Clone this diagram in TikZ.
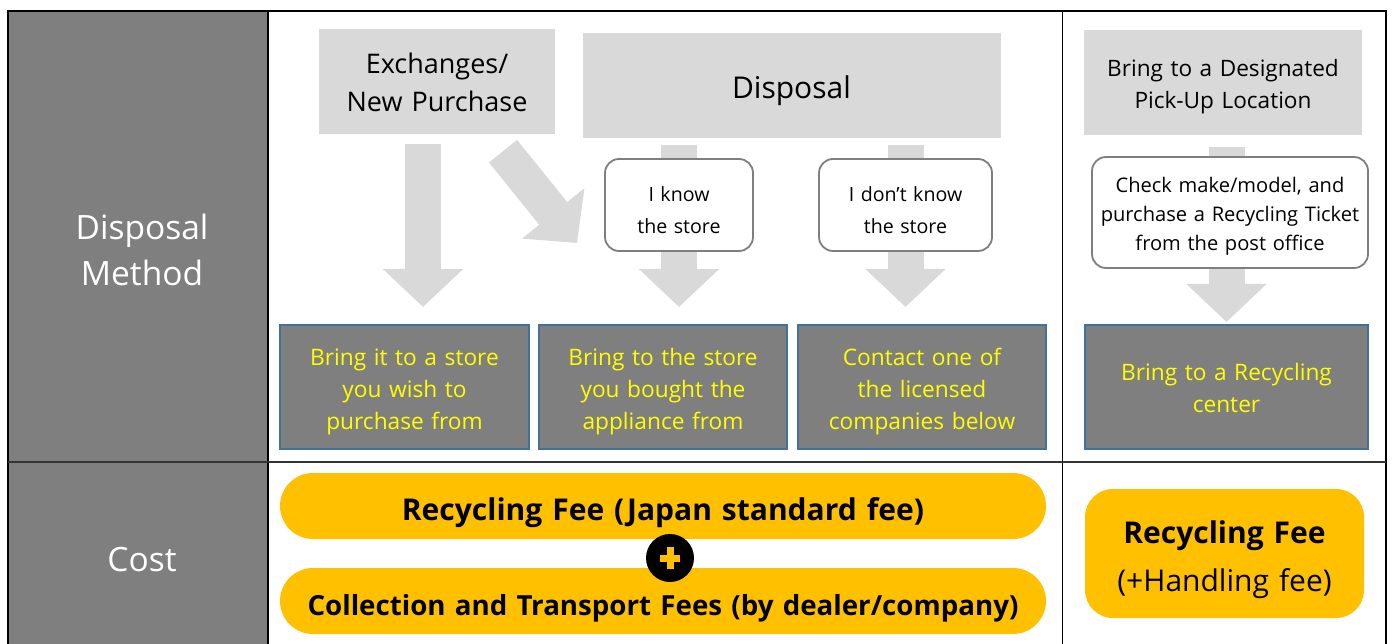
\documentclass[tikz,border=0pt]{standalone}
\usepackage{fontspec}
\setmainfont{Open Sans}
\usetikzlibrary{arrows.meta}
\usetikzlibrary{calc}
\usetikzlibrary{backgrounds}

\definecolor{sidegray}{HTML}{7F7F7F}
\definecolor{headgray}{HTML}{D9D9D9}
\definecolor{askgray}{HTML}{7F7F7F}
\definecolor{storeblue}{HTML}{41719C}
\definecolor{storetext}{HTML}{FFFF00}
\definecolor{feeyellow}{HTML}{FFC000}

\begin{document}
\begin{tikzpicture}[x=1pt,y=-1pt,inner sep=0pt,
  textdrop/.style={execute at begin node={\vskip#1}},
  headbox/.style={fill=headgray,align=center,minimum height=105pt},
  askbox/.style={draw=askgray,line width=1.8pt,fill=white,rounded corners=14pt,align=center,textdrop=-6pt},
  storebox/.style={draw=storeblue,line width=2pt,fill=sidegray,text=storetext,align=center,
    minimum height=124pt,font=\fontsize{22.7pt}{32pt}\selectfont,textdrop=-6pt},
  feebox/.style={fill=feeyellow,align=center},
  sidetext/.style={text=white,align=center,font=\fontsize{33.5pt}{46pt}\selectfont},
  bigarrow/.style={draw=headgray,line width=36pt,-{Triangle[width=78pt,length=38pt]}}]
\useasboundingbox (0,0) rectangle (1392,644);
\clip (0,0) rectangle (1392,644);

% table frame
\fill[sidegray] (8,11) rectangle (268,650);
\draw[line width=2.5pt] (8,11) rectangle (1386,650);
\draw[line width=2.5pt] (268,11) -- (268,650);
\draw[line width=1pt] (1062,11) -- (1062,650);
\draw[line width=2pt,draw=black!80] (8,462) -- (1386,462);

\node [sidetext] (M) at (142,250) {Disposal\\Method};
\node [sidetext] (C) at (142,560) {Cost};

% headings
\node [headbox,minimum width=236pt,text width=230pt,textdrop=-15pt,font=\fontsize{27pt}{38pt}\selectfont] (H1) at (437,81.5) {Exchanges/\\New Purchase};
\node [headbox,minimum width=418pt,text width=400pt,textdrop=-2pt,font=\fontsize{30pt}{36pt}\selectfont] (H2) at (791.5,85.5) {Disposal};
\node [headbox,minimum width=278pt,text width=270pt,textdrop=-6pt,font=\fontsize{22.6pt}{32pt}\selectfont] (H3) at (1223,82.5) {Bring to a Designated\\Pick-Up Location};

% questions
\node [askbox,minimum width=148pt,minimum height=92pt,text width=140pt,font=\fontsize{19.6pt}{32pt}\selectfont] (Q1) at (679,205) {I know\\the store};
\node [askbox,minimum width=173pt,minimum height=92pt,text width=165pt,font=\fontsize{19.6pt}{32pt}\selectfont] (Q2) at (905.5,205) {I don’t know\\the store};
\node [askbox,minimum width=276pt,minimum height=111pt,text width=270pt,textdrop=-1pt,font=\fontsize{20.1pt}{29pt}\selectfont] (Q3) at (1230,212.5) {Check make/model, and\\purchase a Recycling Ticket\\from the post office};

% where to bring it
\node [storebox,minimum width=249pt,text width=240pt] (S1) at (404.5,387) {Bring it to a store\\you wish to\\purchase from};
\node [storebox,minimum width=248pt,text width=240pt] (S2) at (663,387) {Bring to the store\\you bought the\\appliance from};
\node [storebox,minimum width=248pt,text width=240pt] (S3) at (922,387) {Contact one of\\the licensed\\companies below};
\node [storebox,minimum width=283pt,text width=275pt,textdrop=-6pt] (S4) at (1226.5,387) {Bring to a Recycling\\center};

% fees
\node [feebox,minimum width=766pt,minimum height=66pt,text width=760pt,textdrop=0pt,rounded corners=33pt,font=\fontsize{30pt}{36pt}\selectfont\bfseries] (F1) at (663,506) {Recycling Fee (Japan standard fee)};
\node [feebox,minimum width=766pt,minimum height=66pt,text width=760pt,textdrop=1pt,rounded corners=33pt,font=\fontsize{27.7pt}{34pt}\selectfont\bfseries] (F2) at (663,601) {Collection and Transport Fees (by dealer/company)};
\node [feebox,minimum width=279pt,minimum height=129pt,text width=270pt,textdrop=-13pt,rounded corners=28pt,font=\fontsize{30pt}{48pt}\selectfont] (F3) at (1224.5,553.5) {\textbf{Recycling Fee}\\(+Handling fee)};
\node [circle,fill=black,minimum size=48pt] (P) at (670,558) {};
\draw [feeyellow,line width=7pt] ($(P)+(-10,0)$) -- ($(P)+(10,0)$);
\draw [feeyellow,line width=7pt] ($(P)+(0,-11)$) -- ($(P)+(0,11)$);

% arrows behind the boxes
\begin{pgfonlayer}{background}
\draw [bigarrow] ($(H1.south)+(-14,10)$) -- ($(S1.north)+(18.5,-17)$);
\draw [bigarrow] ($(H1.south)+(66,17)$) -- ($(Q1.west)+(-27,38)$);
\draw [bigarrow] ($(H2.south -| Q1)+(0,7)$) -- ($(S2.north -| Q1)+(0,-17)$);
\draw [bigarrow] ($(H2.south -| Q2)+(0,7)$) -- ($(S3.north -| Q2)+(0,-17)$);
\draw [bigarrow] ($(H3.south -| S4)+(0,12)$) -- ($(S4.north)+(0,-2)$);
\end{pgfonlayer}
\end{tikzpicture}
\end{document}
